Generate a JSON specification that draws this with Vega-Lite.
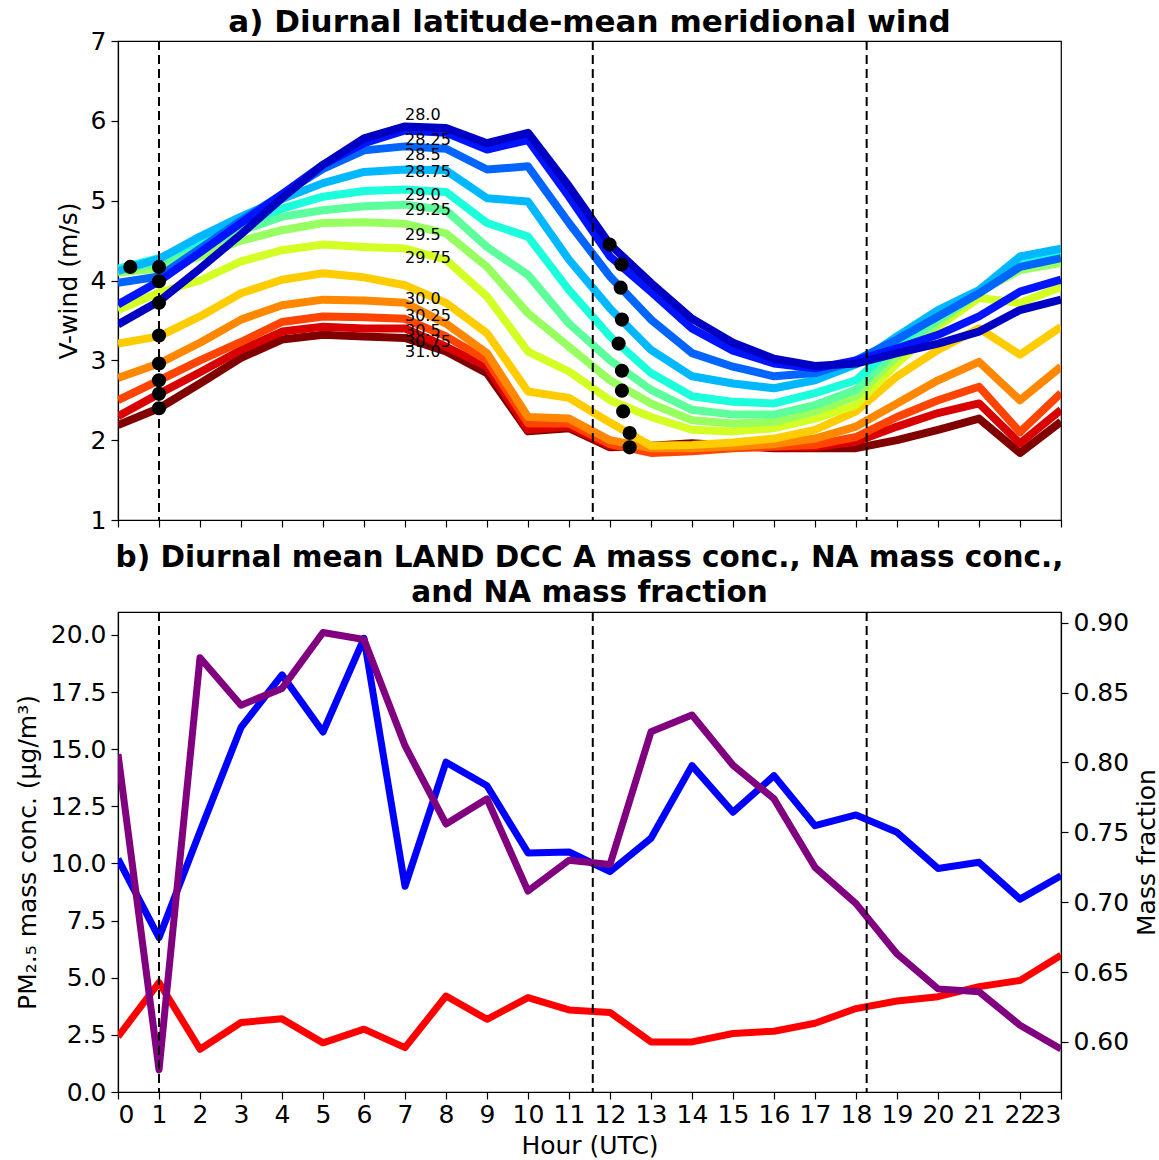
{
  "$schema": "https://vega.github.io/schema/vega-lite/v6.json",
  "padding": {"left": 14, "top": 6, "right": 2, "bottom": 2},
  "spacing": 8,
  "resolve": {"scale": {"color": "independent"}},
  "config": {
    "font": "DejaVu Sans",
    "view": {"stroke": "black", "strokeWidth": 1.2},
    "axis": {"grid": false, "domainColor": "black", "domainWidth": 1.2, "tickColor": "black", "tickWidth": 1.2, "tickSize": 7, "labelColor": "black", "titleColor": "black", "labelFontSize": 25, "titleFontSize": 25, "titleFontWeight": "normal", "labelPadding": 5, "titlePadding": 9, "labelOverlap": false},
    "title": {"fontSize": 30, "fontWeight": "bold", "color": "black", "anchor": "middle"}
  },
  "datasets": {
    "wind": [
      {"h":0,"l2800":3.45,"l2825":3.70,"l2850":3.97,"l2875":4.12,"l2900":4.15,"l2925":4.13,"l2950":4.10,"l2975":3.63,"l3000":3.21,"l3025":2.78,"l3050":2.50,"l3075":2.30,"l3100":2.19},
      {"h":1,"l2800":3.74,"l2825":3.99,"l2850":4.05,"l2875":4.27,"l2900":4.28,"l2925":4.22,"l2950":4.15,"l2975":3.85,"l3000":3.30,"l3025":2.96,"l3050":2.75,"l3075":2.58,"l3100":2.40},
      {"h":2,"l2800":4.15,"l2825":4.35,"l2850":4.40,"l2875":4.55,"l2900":4.50,"l2925":4.40,"l2950":4.30,"l2975":4.00,"l3000":3.55,"l3025":3.22,"l3050":3.00,"l3075":2.85,"l3100":2.71},
      {"h":3,"l2800":4.58,"l2825":4.72,"l2850":4.75,"l2875":4.80,"l2900":4.72,"l2925":4.62,"l2950":4.50,"l2975":4.24,"l3000":3.84,"l3025":3.51,"l3050":3.23,"l3075":3.13,"l3100":3.03},
      {"h":4,"l2800":5.03,"l2825":5.08,"l2850":5.08,"l2875":5.02,"l2900":4.90,"l2925":4.80,"l2950":4.63,"l2975":4.38,"l3000":4.01,"l3025":3.69,"l3050":3.48,"l3075":3.36,"l3100":3.26},
      {"h":5,"l2800":5.45,"l2825":5.45,"l2850":5.40,"l2875":5.22,"l2900":5.05,"l2925":4.88,"l2950":4.72,"l2975":4.45,"l3000":4.09,"l3025":3.76,"l3050":3.55,"l3075":3.42,"l3100":3.32},
      {"h":6,"l2800":5.78,"l2825":5.72,"l2850":5.63,"l2875":5.36,"l2900":5.12,"l2925":4.93,"l2950":4.73,"l2975":4.42,"l3000":4.04,"l3025":3.75,"l3050":3.54,"l3075":3.40,"l3100":3.30},
      {"h":7,"l2800":5.93,"l2825":5.88,"l2850":5.68,"l2875":5.39,"l2900":5.14,"l2925":4.95,"l2950":4.71,"l2975":4.40,"l3000":3.94,"l3025":3.72,"l3050":3.52,"l3075":3.40,"l3100":3.28},
      {"h":8,"l2800":5.91,"l2825":5.85,"l2850":5.65,"l2875":5.38,"l2900":5.11,"l2925":4.88,"l2950":4.59,"l2975":4.26,"l3000":3.72,"l3025":3.46,"l3050":3.30,"l3075":3.17,"l3100":3.11},
      {"h":9,"l2800":5.72,"l2825":5.64,"l2850":5.39,"l2875":5.03,"l2900":4.72,"l2925":4.42,"l2950":4.17,"l2975":3.80,"l3000":3.34,"l3025":3.09,"l3050":3.00,"l3075":2.92,"l3100":2.84},
      {"h":10,"l2800":5.85,"l2825":5.76,"l2850":5.43,"l2875":4.99,"l2900":4.55,"l2925":4.07,"l2950":3.59,"l2975":3.11,"l3000":2.61,"l3025":2.29,"l3050":2.21,"l3075":2.13,"l3100":2.11},
      {"h":11,"l2800":5.18,"l2825":5.05,"l2850":4.72,"l2875":4.26,"l2900":3.88,"l2925":3.46,"l2950":3.17,"l2975":2.86,"l3000":2.53,"l3025":2.27,"l3050":2.21,"l3075":2.17,"l3100":2.15},
      {"h":12,"l2800":4.45,"l2825":4.30,"l2850":4.05,"l2875":3.65,"l2900":3.30,"l2925":3.00,"l2950":2.75,"l2975":2.50,"l3000":2.22,"l3025":2.00,"l3050":1.95,"l3075":1.93,"l3100":1.91},
      {"h":13,"l2800":3.97,"l2825":3.86,"l2850":3.51,"l2875":3.13,"l2900":2.84,"l2925":2.63,"l2950":2.46,"l2975":2.29,"l3000":1.93,"l3025":1.90,"l3050":1.84,"l3075":1.88,"l3100":1.93},
      {"h":14,"l2800":3.52,"l2825":3.40,"l2850":3.09,"l2875":2.80,"l2900":2.55,"l2925":2.38,"l2950":2.25,"l2975":2.13,"l3000":1.94,"l3025":1.90,"l3050":1.86,"l3075":1.90,"l3100":1.96},
      {"h":15,"l2800":3.22,"l2825":3.12,"l2850":2.92,"l2875":2.71,"l2900":2.48,"l2925":2.32,"l2950":2.21,"l2975":2.11,"l3000":1.97,"l3025":1.92,"l3050":1.90,"l3075":1.91,"l3100":1.93},
      {"h":16,"l2800":3.02,"l2825":2.96,"l2850":2.80,"l2875":2.65,"l2900":2.46,"l2925":2.32,"l2950":2.23,"l2975":2.15,"l3000":2.02,"l3025":1.95,"l3050":1.92,"l3075":1.91,"l3100":1.90},
      {"h":17,"l2800":2.93,"l2825":2.90,"l2850":2.84,"l2875":2.75,"l2900":2.59,"l2925":2.44,"l2950":2.36,"l2975":2.27,"l3000":2.13,"l3025":2.02,"l3050":1.94,"l3075":1.91,"l3100":1.90},
      {"h":18,"l2800":2.96,"l2825":3.00,"l2850":3.00,"l2875":2.95,"l2900":2.75,"l2925":2.63,"l2950":2.55,"l2975":2.44,"l3000":2.36,"l3025":2.17,"l3050":2.04,"l3075":1.98,"l3100":1.90},
      {"h":19,"l2800":3.09,"l2825":3.15,"l2850":3.26,"l2875":3.30,"l2900":3.21,"l2925":3.13,"l2950":3.05,"l2975":2.96,"l3000":2.80,"l3025":2.46,"l3050":2.29,"l3075":2.17,"l3100":2.00},
      {"h":20,"l2800":3.21,"l2825":3.32,"l2850":3.55,"l2875":3.63,"l2900":3.57,"l2925":3.51,"l2950":3.46,"l2975":3.42,"l3000":3.13,"l3025":2.75,"l3050":2.50,"l3075":2.34,"l3100":2.13},
      {"h":21,"l2800":3.36,"l2825":3.55,"l2850":3.84,"l2875":3.88,"l2900":3.85,"l2925":3.84,"l2950":3.86,"l2975":3.78,"l3000":3.40,"l3025":2.98,"l3050":2.67,"l3075":2.46,"l3100":2.27},
      {"h":22,"l2800":3.63,"l2825":3.86,"l2850":4.17,"l2875":4.30,"l2900":4.25,"l2925":4.20,"l2950":4.13,"l2975":3.72,"l3000":3.07,"l3025":2.50,"l3050":2.10,"l3075":1.96,"l3100":1.84},
      {"h":23,"l2800":3.76,"l2825":4.01,"l2850":4.28,"l2875":4.40,"l2900":4.36,"l2925":4.32,"l2950":4.22,"l2975":3.92,"l3000":3.42,"l3025":2.92,"l3050":2.59,"l3075":2.38,"l3100":2.23}
    ],
    "labels": [
      {"lat":"28.0","h":7,"v":6.075},
      {"lat":"28.25","h":7,"v":5.76},
      {"lat":"28.5","h":7,"v":5.57},
      {"lat":"28.75","h":7,"v":5.36},
      {"lat":"29.0","h":7,"v":5.07},
      {"lat":"29.25","h":7,"v":4.88},
      {"lat":"29.5","h":7,"v":4.57},
      {"lat":"29.75","h":7,"v":4.28},
      {"lat":"30.0","h":7,"v":3.77},
      {"lat":"30.25","h":7,"v":3.56},
      {"lat":"30.5","h":7,"v":3.37},
      {"lat":"30.75","h":7,"v":3.23},
      {"lat":"31.0","h":7,"v":3.11}
    ],
    "dots": [
      {"h":0.30,"v":4.17},{"h":1,"v":4.17},{"h":1,"v":3.99},{"h":1,"v":3.72},{"h":1,"v":3.31},{"h":1,"v":2.96},{"h":1,"v":2.75},{"h":1,"v":2.58},{"h":1,"v":2.40},
      {"h":11.99,"v":4.45},{"h":12.28,"v":4.20},{"h":12.26,"v":3.91},{"h":12.29,"v":3.51},{"h":12.21,"v":3.21},{"h":12.29,"v":2.87},{"h":12.29,"v":2.62},{"h":12.32,"v":2.36},{"h":12.48,"v":2.09},{"h":12.48,"v":1.91}
    ],
    "vlines": [{"h":1},{"h":11.58},{"h":18.26}],
    "pm": [
      {"h":0,"A_conc":10.2,"NA_conc":2.42,"NA_frac":0.806},
      {"h":1,"A_conc":6.75,"NA_conc":4.79,"NA_frac":0.580},
      {"h":2,"A_conc":11.4,"NA_conc":1.87,"NA_frac":0.875},
      {"h":3,"A_conc":15.95,"NA_conc":3.04,"NA_frac":0.841},
      {"h":4,"A_conc":18.25,"NA_conc":3.2,"NA_frac":0.853},
      {"h":5,"A_conc":15.75,"NA_conc":2.15,"NA_frac":0.893},
      {"h":6,"A_conc":19.85,"NA_conc":2.75,"NA_frac":0.888},
      {"h":7,"A_conc":9.0,"NA_conc":1.94,"NA_frac":0.812},
      {"h":8,"A_conc":14.43,"NA_conc":4.2,"NA_frac":0.756},
      {"h":9,"A_conc":13.4,"NA_conc":3.18,"NA_frac":0.774},
      {"h":10,"A_conc":10.46,"NA_conc":4.13,"NA_frac":0.708},
      {"h":11,"A_conc":10.5,"NA_conc":3.59,"NA_frac":0.730},
      {"h":12,"A_conc":9.64,"NA_conc":3.48,"NA_frac":0.727},
      {"h":13,"A_conc":11.1,"NA_conc":2.19,"NA_frac":0.822},
      {"h":14,"A_conc":14.28,"NA_conc":2.19,"NA_frac":0.834},
      {"h":15,"A_conc":12.24,"NA_conc":2.56,"NA_frac":0.798},
      {"h":16,"A_conc":13.84,"NA_conc":2.66,"NA_frac":0.774},
      {"h":17,"A_conc":11.65,"NA_conc":3.01,"NA_frac":0.725},
      {"h":18,"A_conc":12.12,"NA_conc":3.65,"NA_frac":0.699},
      {"h":19,"A_conc":11.36,"NA_conc":3.98,"NA_frac":0.663},
      {"h":20,"A_conc":9.78,"NA_conc":4.17,"NA_frac":0.638},
      {"h":21,"A_conc":10.05,"NA_conc":4.61,"NA_frac":0.636},
      {"h":22,"A_conc":8.44,"NA_conc":4.88,"NA_frac":0.612},
      {"h":23,"A_conc":9.46,"NA_conc":5.98,"NA_frac":0.595}
    ]
  },
  "vconcat": [
    {
      "width": 943,
      "height": 479,
      "title": {"text": "a) Diurnal latitude-mean meridional wind", "offset": -10, "fontSize": 31},
      "layer": [
        {
          "data": {"name": "wind"},
          "transform": [{"fold": ["l3100","l3075","l3050","l3025","l3000","l2975","l2950","l2925","l2900","l2875","l2850","l2825","l2800"], "as": ["lat", "v"]}],
          "mark": {"type": "line", "strokeWidth": 8, "strokeJoin": "round", "clip": true},
          "encoding": {
            "x": {"field": "h", "type": "quantitative", "scale": {"domain": [0, 23], "nice": false}, "axis": {"values": [0,1,2,3,4,5,6,7,8,9,10,11,12,13,14,15,16,17,18,19,20,21,22,23], "labels": false, "title": null}},
            "y": {"field": "v", "type": "quantitative", "scale": {"domain": [1, 7], "nice": false, "zero": false}, "axis": {"values": [1,2,3,4,5,6,7], "format": "d", "title": "V-wind (m/s)"}},
            "color": {"field": "lat", "type": "nominal", "legend": null, "scale": {"domain": ["l2800","l2825","l2850","l2875","l2900","l2925","l2950","l2975","l3000","l3025","l3050","l3075","l3100"], "range": ["#0000c4","#0014ff","#0064ff","#00b8ff","#1cffdc","#5cff9c","#98ff60","#d4ff24","#ffcc00","#ff8800","#ff4400","#d80000","#800000"]}}
          }
        },
        {
          "data": {"name": "vlines"},
          "mark": {"type": "rule", "color": "black", "strokeWidth": 2, "strokeDash": [9, 5]},
          "encoding": {"x": {"field": "h", "type": "quantitative"}}
        },
        {
          "data": {"name": "dots"},
          "mark": {"type": "circle", "size": 200, "color": "black", "opacity": 1},
          "encoding": {"x": {"field": "h", "type": "quantitative"}, "y": {"field": "v", "type": "quantitative"}}
        },
        {
          "data": {"name": "labels"},
          "mark": {"type": "text", "align": "left", "baseline": "middle", "fontSize": 16, "color": "black"},
          "encoding": {"x": {"field": "h", "type": "quantitative"}, "y": {"field": "v", "type": "quantitative"}, "text": {"field": "lat"}}
        }
      ]
    },
    {
      "width": 943,
      "height": 480,
      "title": {"text": ["b) Diurnal mean LAND DCC A mass conc., NA mass conc.,", "and NA mass fraction"], "offset": 2, "lineHeight": 35, "fontSize": 29.5},
      "layer": [
        {
          "data": {"name": "pm"},
          "transform": [{"fold": ["A_conc", "NA_conc"], "as": ["series", "val"]}],
          "mark": {"type": "line", "strokeWidth": 7, "strokeJoin": "round", "clip": true},
          "encoding": {
            "x": {"field": "h", "type": "quantitative", "scale": {"domain": [0, 23], "nice": false}, "axis": {"values": [0,1,2,3,4,5,6,7,8,9,10,11,12,13,14,15,16,17,18,19,20,21,22,23], "format": "d", "title": "Hour (UTC)", "labelPadding": 3, "titlePadding": 6}},
            "y": {"field": "val", "type": "quantitative", "scale": {"domain": [0, 21], "nice": false}, "axis": {"values": [0,2.5,5,7.5,10,12.5,15,17.5,20], "format": ".1f", "title": "PM₂.₅ mass conc. (μg/m³)", "titlePadding": 10}},
            "color": {"field": "series", "type": "nominal", "legend": null, "scale": {"domain": ["A_conc", "NA_conc"], "range": ["#0000ff", "#ff0000"]}}
          }
        },
        {
          "data": {"name": "pm"},
          "mark": {"type": "line", "strokeWidth": 7, "strokeJoin": "round", "color": "#800080", "clip": true},
          "encoding": {
            "x": {"field": "h", "type": "quantitative"},
            "y": {"field": "NA_frac", "type": "quantitative", "scale": {"domain": [0.5642, 0.9077], "nice": false, "zero": false}, "axis": {"orient": "right", "values": [0.6,0.65,0.7,0.75,0.8,0.85,0.9], "format": ".2f", "title": "Mass fraction", "titleAngle": 270, "titleBaseline": "top", "titlePadding": 6}}
          }
        },
        {
          "data": {"name": "vlines"},
          "mark": {"type": "rule", "color": "black", "strokeWidth": 2, "strokeDash": [9, 5]},
          "encoding": {"x": {"field": "h", "type": "quantitative"}}
        }
      ],
      "resolve": {"scale": {"y": "independent"}}
    }
  ]
}
